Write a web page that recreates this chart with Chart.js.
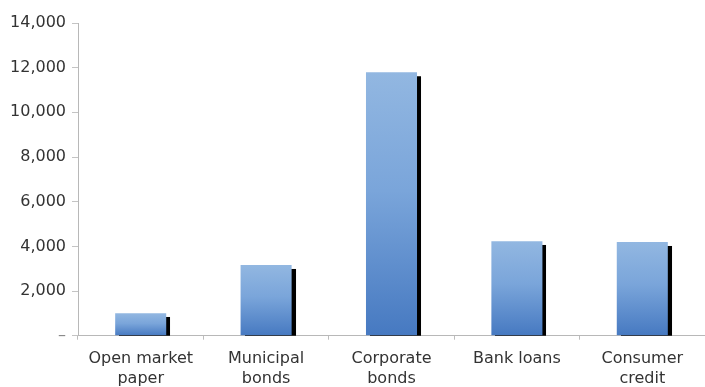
<!DOCTYPE html>
<html>
<head>
<meta charset="utf-8">
<script src="https://cdn.jsdelivr.net/npm/chart.js@4"></script>
<style>
  html, body { margin: 0; padding: 0; background: #ffffff; }
  #wrap { width: 705px; height: 387px; }
</style>
</head>
<body>
<div id="wrap"><canvas id="chart" width="705" height="387"></canvas></div>
<script>
// Credit market instruments outstanding
const categories = [
  ['Open market', 'paper'],
  ['Municipal', 'bonds'],
  ['Corporate', 'bonds'],
  ['Bank loans'],
  ['Consumer', 'credit']
];
const amounts = [1000, 3160, 11800, 4230, 4190];
const yTicks = [0, 2000, 4000, 6000, 8000, 10000, 12000, 14000];

const FONT = { family: '"DejaVu Sans", "Liberation Sans", Arial, sans-serif', size: 16 };

// Hard black drop shadow on the lower right of every bar
const barShadow = {
  id: 'barShadow',
  beforeDatasetDraw(chart) {
    const c = chart.ctx;
    c.save();
    c.shadowColor = 'rgba(0,0,0,1)';
    c.shadowOffsetX = 4;
    c.shadowOffsetY = 4;
    c.shadowBlur = 0.5;
  },
  afterDatasetDraw(chart) {
    chart.ctx.restore();
  }
};

// Vertical gradient per bar: light blue at the top, deeper blue at the base
function barGradient(ctx) {
  const chart = ctx.chart;
  const y = chart.scales && chart.scales.y;
  if (!y || ctx.type !== 'data' || y.bottom === undefined) return '#6f9ed8';
  const top = y.getPixelForValue(ctx.raw);
  const base = y.getPixelForValue(0);
  if (!isFinite(top) || !isFinite(base) || top === base) return '#6f9ed8';
  const g = chart.ctx.createLinearGradient(0, top, 0, base);
  g.addColorStop(0, '#92b7e1');
  g.addColorStop(0.45, '#7aa5da');
  g.addColorStop(1, '#4679c1');
  return g;
}

new Chart(document.getElementById('chart'), {
  type: 'bar',
  data: {
    labels: categories,
    datasets: [{
      data: amounts,
      backgroundColor: barGradient,
      borderWidth: 0,
      barPercentage: 0.407,
      categoryPercentage: 1
    }]
  },
  options: {
    responsive: false,
    animation: false,
    devicePixelRatio: 1,
    layout: { padding: { top: 23, right: 0, bottom: 0, left: 0 } },
    plugins: {
      legend: { display: false },
      tooltip: { enabled: false }
    },
    scales: {
      x: {
        grid: {
          display: true,
          drawOnChartArea: false,
          drawTicks: true,
          tickLength: 4,
          color: '#bdbdbd',
          offset: true
        },
        border: { display: true, color: '#b8b8b8', width: 1 },
        ticks: {
          font: FONT,
          color: '#333333',
          padding: 10,
          maxRotation: 0,
          autoSkip: false
        },
        afterFit(scale) { scale.height = 51.3; }
      },
      y: {
        min: 0,
        max: 14000,
        grid: {
          display: true,
          drawOnChartArea: false,
          drawTicks: true,
          tickLength: 6,
          color: '#c4c4c4'
        },
        border: { display: true, color: '#b8b8b8', width: 1 },
        afterBuildTicks(scale) {
          scale.ticks = yTicks.map(v => ({ value: v }));
        },
        ticks: {
          font: FONT,
          color: ctx => (ctx.tick && ctx.tick.value === 0 ? '#8a8a8a' : '#333333'),
          padding: 6,
          callback: v => (v === 0 ? '–' : v.toLocaleString('en-US'))
        },
        afterFit(scale) { scale.width = 78; }
      }
    }
  },
  plugins: [barShadow]
});
</script>
</body>
</html>
